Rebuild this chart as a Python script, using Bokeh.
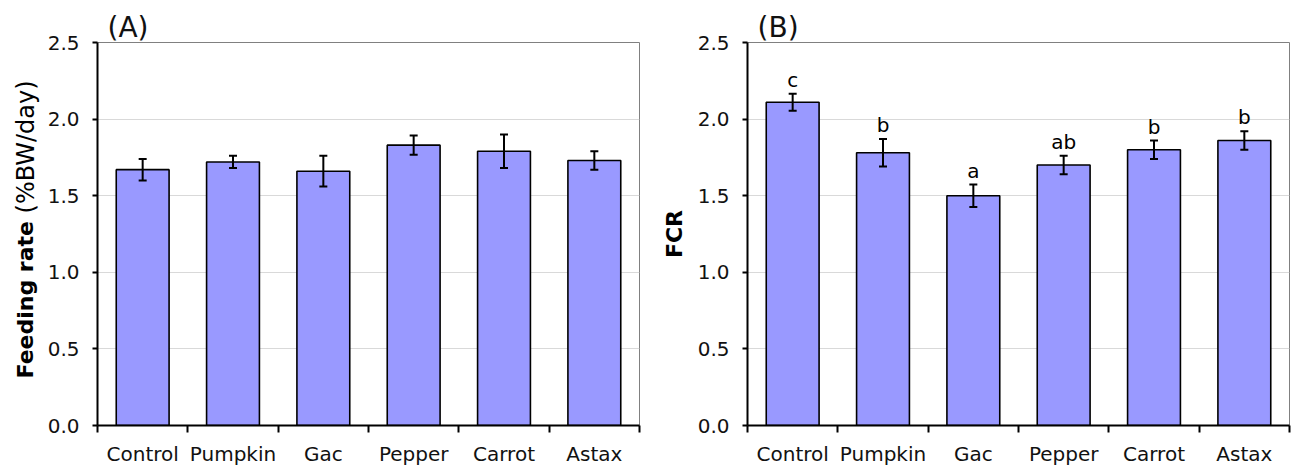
import math
from bokeh.plotting import figure
from bokeh.models import (ColumnDataSource, Range1d, FixedTicker, Whisker, TeeHead, Title)
from bokeh.layouts import row
from bokeh.core.properties import value
from bokeh.embed import file_html
from bokeh.resources import INLINE

# ---------------- data ----------------
categories = ["Control", "Pumpkin", "Gac", "Pepper", "Carrot", "Astax"]
feeding_rate = [1.67, 1.72, 1.66, 1.83, 1.79, 1.73]
feeding_rate_err = [0.07, 0.04, 0.10, 0.063, 0.11, 0.06]
fcr = [2.11, 1.78, 1.50, 1.70, 1.80, 1.86]
fcr_err = [0.055, 0.09, 0.073, 0.06, 0.06, 0.06]
fcr_letters = ["c", "b", "a", "ab", "b", "b"]
y_ticks = [0.0, 0.5, 1.0, 1.5, 2.0, 2.5]
y_tick_labels = ["0.0", "0.5", "1.0", "1.5", "2.0", "2.5"]

FONT = "DejaVu Sans"
BAR_COLOR = "#9999FF"
TOP, FRAME_H, BOTTOM = 42, 383, 39


def make_panel(vals, errs, panel_label, left_border, right_border, letters=None):
    n = len(categories)
    centers = [i + 0.5 for i in range(n)]
    src = ColumnDataSource(dict(
        x=centers, top=vals,
        upper=[v + e for v, e in zip(vals, errs)],
        lower=[v - e for v, e in zip(vals, errs)],
        letters=letters if letters else [""] * n,
    ))
    p = figure(frame_width=542, frame_height=FRAME_H,
               x_range=Range1d(0, n), y_range=Range1d(y_ticks[0], y_ticks[-1]),
               output_backend="svg", toolbar_location=None,
               min_border_left=left_border, min_border_right=right_border,
               min_border_top=TOP, min_border_bottom=BOTTOM)
    p.background_fill_color = "white"
    p.border_fill_color = "white"
    p.outline_line_color = "#808080"
    p.outline_line_width = 1

    p.vbar(x="x", top="top", bottom=0, width=0.585, source=src,
           fill_color=BAR_COLOR, line_color="black", line_width=1.6)

    wh = Whisker(base="x", upper="upper", lower="lower", source=src,
                 line_color="black", line_width=2,
                 upper_head=TeeHead(size=8, line_width=2, line_color="black"),
                 lower_head=TeeHead(size=8, line_width=2, line_color="black"),
                 level="overlay")
    p.add_layout(wh)

    if letters:
        p.text(x="x", y="upper", text="letters", source=src,
               text_font=value(FONT), text_font_size="20px",
               text_align="center", text_baseline="alphabetic",
               y_offset=-14, text_color="black")

    # x axis: labels at bar centres, tick marks at category boundaries
    xa = p.xaxis[0]
    xa.ticker = FixedTicker(ticks=centers, minor_ticks=list(range(n + 1)))
    xa.major_label_overrides = {c: lab for c, lab in zip(centers, categories)}
    xa.major_tick_out = 0
    xa.major_tick_in = 0
    xa.minor_tick_out = 7
    xa.minor_tick_in = 0
    xa.minor_tick_line_width = 2
    xa.minor_tick_line_color = "black"
    xa.axis_line_width = 2
    xa.axis_line_color = "black"
    xa.major_label_text_font = FONT
    xa.major_label_text_font_size = "20px"
    xa.major_label_text_color = "#111111"
    xa.major_label_standoff = 9

    ya = p.yaxis[0]
    ya.ticker = FixedTicker(ticks=y_ticks, minor_ticks=[])
    ya.major_label_overrides = {t: lab for t, lab in zip(y_ticks, y_tick_labels)}
    ya.major_tick_out = 5
    ya.major_tick_in = 0
    ya.major_tick_line_width = 2
    ya.major_tick_line_color = "black"
    ya.minor_tick_out = 0
    ya.minor_tick_in = 0
    ya.axis_line_width = 2
    ya.axis_line_color = "black"
    ya.major_label_text_font = FONT
    ya.major_label_text_font_size = "20px"
    ya.major_label_text_color = "#111111"
    ya.major_label_standoff = 13

    p.xgrid.visible = False
    p.ygrid.ticker = FixedTicker(ticks=y_ticks[1:-1])
    p.ygrid.grid_line_color = "#d9d9d9"
    p.ygrid.grid_line_width = 1

    p.add_layout(Title(text=panel_label, align="left", offset=10, standoff=-2,
                       text_font=FONT, text_font_size="28px",
                       text_font_style="normal", text_color="#111111"), "above")
    return p


# side strip carrying the two-style y-axis title of panel A
lab = figure(frame_width=40, frame_height=FRAME_H,
             x_range=Range1d(0, 40), y_range=Range1d(y_ticks[0], y_ticks[-1]),
             output_backend="svg", toolbar_location=None,
             x_axis_location=None, y_axis_location=None,
             min_border_left=0, min_border_right=0,
             min_border_top=TOP, min_border_bottom=BOTTOM)
lab.outline_line_color = None
lab.grid.visible = False
lab.text(x=[25], y=[0.307], text=["Feeding rate"], angle=math.pi / 2,
         text_font=value(FONT), text_font_size="22px", text_font_style="bold",
         text_align="left", text_baseline="alphabetic", text_color="black")
lab.text(x=[25], y=[1.384], text=["(%BW/day)"], angle=math.pi / 2,
         text_font=value(FONT), text_font_size="24px",
         text_align="left", text_baseline="alphabetic", text_color="black")

pA = make_panel(feeding_rate, feeding_rate_err, "(A)", 57, 11)

pB = make_panel(fcr, fcr_err, "(B)", 97, 5, letters=fcr_letters)
pB.yaxis[0].axis_label = "FCR"
pB.yaxis[0].axis_label_text_font = FONT
pB.yaxis[0].axis_label_text_font_size = "22px"
pB.yaxis[0].axis_label_text_font_style = "bold"
pB.yaxis[0].axis_label_text_color = "black"
pB.yaxis[0].axis_label_standoff = 8

layout = row(lab, pA, pB)
open("out.html", "w").write(file_html(layout, INLINE))
